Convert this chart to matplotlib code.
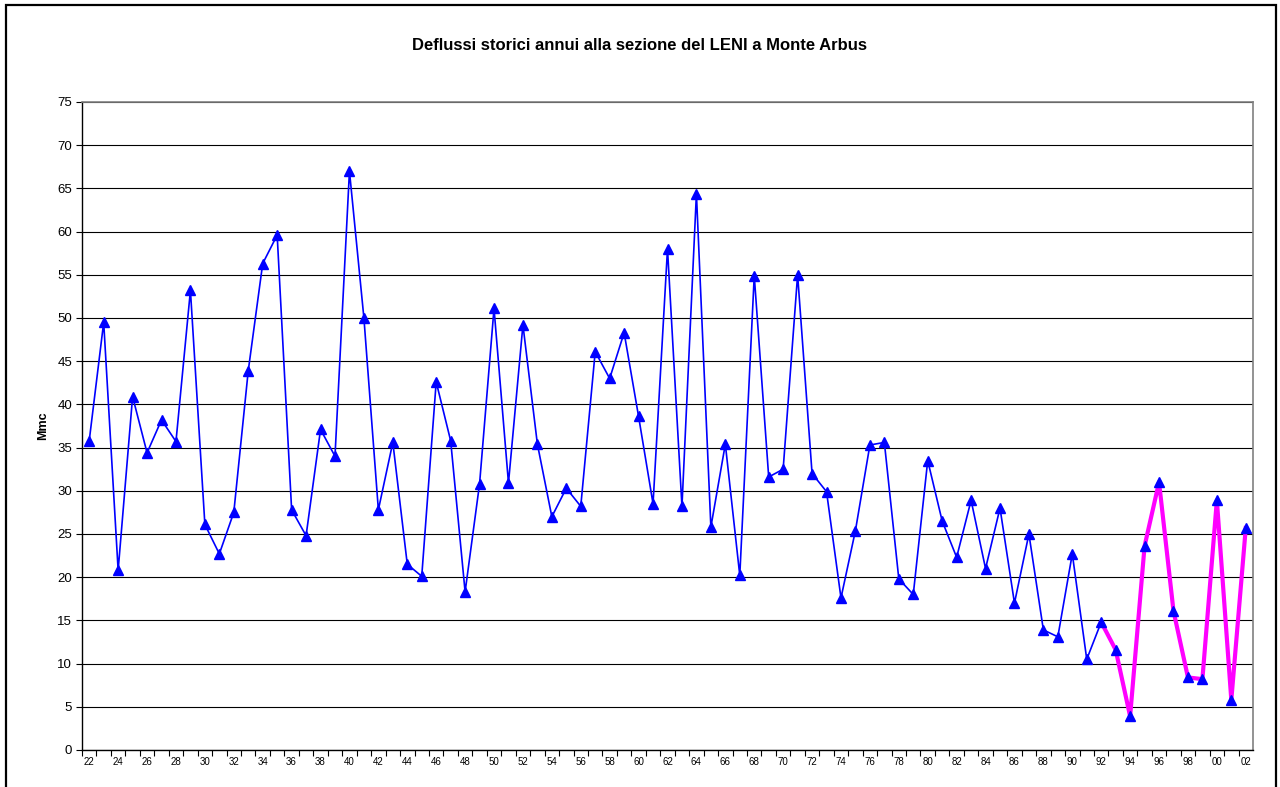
import matplotlib.pyplot as plt
from matplotlib.patches import Rectangle

plt.rcParams['font.family'] = ['Liberation Sans', 'DejaVu Sans']

# Annual runoff (Mmc), hydrological years 1922-2002
years = list(range(1922, 2003))
deflussi = [
    35.8, 49.5, 20.8, 40.9, 34.4, 38.2, 35.7, 53.2, 26.1, 22.7,
    27.5, 43.9, 56.3, 59.6, 27.8, 24.8, 37.1, 34.0, 67.0, 50.0,
    27.8, 35.6, 21.5, 20.1, 42.6, 35.8, 18.3, 30.8, 51.1, 30.9,
    49.2, 35.4, 27.0, 30.3, 28.2, 46.1, 43.0, 48.3, 38.6, 28.5,
    58.0, 28.2, 64.4, 25.8, 35.4, 20.2, 54.9, 31.6, 32.5, 55.0,
    32.0, 29.9, 17.6, 25.4, 35.3, 35.6, 19.8, 18.0, 33.5, 26.5,
    22.3, 28.9, 21.0, 28.0, 17.0, 25.0, 13.9, 13.1, 22.7, 10.5,
    14.8, 11.6, 3.9, 23.6, 31.0, 16.1, 8.4, 8.2, 28.9, 5.8,
    25.7,
]
# last period highlighted in magenta
recent_from = 1992

labels = [f"{y % 100:02d}" for y in years]
x = list(range(len(years)))
k = years.index(recent_from)

fig = plt.figure(figsize=(12.8, 7.87), dpi=100)
fig.patches.append(Rectangle((6 / 1280, -0.02), 1270 / 1280, 1 - 4.5 / 787 + 0.02,
                             transform=fig.transFigure, fill=False,
                             edgecolor='black', linewidth=1.6))

ax = fig.add_axes([82 / 1280, 37 / 787, 1171 / 1280, 648 / 787])

ax.plot(x[:k + 1], deflussi[:k + 1], color='#0000FF', linewidth=1.2, zorder=3)
ax.plot(x[k:], deflussi[k:], color='#FF00FF', linewidth=3.0, zorder=3)
ax.plot(x, deflussi, linestyle='none', marker='^', markersize=7.5,
        color='#0000FF', zorder=4)

ax.set_xlim(-0.5, len(years) - 0.5)
ax.set_ylim(0, 75)
ax.set_yticks(range(0, 80, 5))
ax.yaxis.grid(True, color='black', linewidth=0.8)
ax.set_axisbelow(True)

# category axis: ticks on the boundaries, a label under every second year
ax.set_xticks([i + 0.5 for i in x[:-1]] + [-0.5], minor=False)
ax.set_xticklabels([])
ax.set_xticks(x[::2], minor=True)
ax.set_xticklabels(labels[::2], minor=True, fontsize=7)
ax.tick_params(axis='x', which='major', length=4, width=0.8, direction='out')
ax.tick_params(axis='x', which='minor', length=0, pad=5)
ax.tick_params(axis='y', length=4, width=0.8, labelsize=9.5, pad=3)

for side in ('left', 'bottom'):
    ax.spines[side].set_color('black')
    ax.spines[side].set_linewidth(1.0)
for side in ('right', 'top'):
    ax.spines[side].set_color('#808080')
    ax.spines[side].set_linewidth(1.2)

ax.set_ylabel('Mmc', fontsize=9, fontweight='bold', labelpad=6)
fig.text(0.5, 1 - 45 / 787, 'Deflussi storici annui alla sezione del LENI a Monte Arbus',
         ha='center', va='center', fontsize=12, fontweight='bold')

fig.savefig('out.png', dpi=100)
